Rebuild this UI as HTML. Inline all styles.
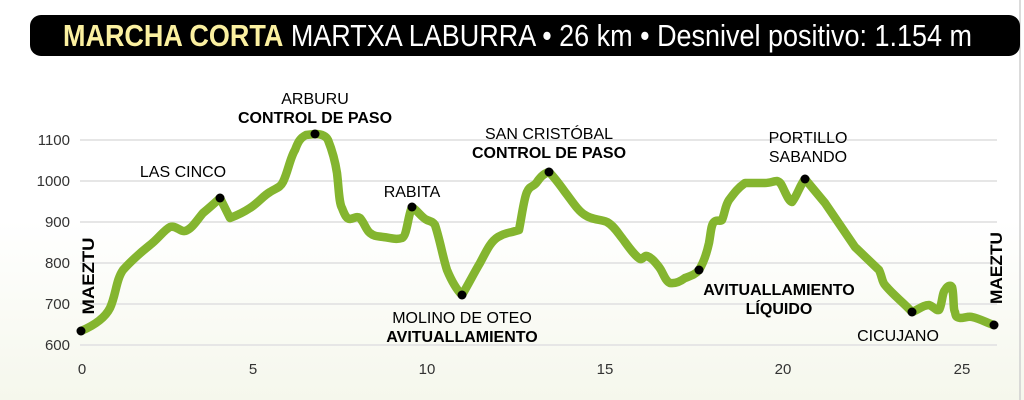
<!DOCTYPE html>
<html><head><meta charset="utf-8"><style>
html,body{margin:0;padding:0;width:1024px;height:400px;overflow:hidden;}
body{background:linear-gradient(to bottom,#ffffff 0%,#ffffff 55%,#f5f7ec 100%);}
svg{display:block;font-family:"Liberation Sans",sans-serif;}
</style></head><body>
<svg width="1024" height="400" viewBox="0 0 1024 400">
<line x1="1020" y1="0" x2="1020" y2="400" stroke="#cfcfcf" stroke-width="1.5"/>
<rect x="30" y="15" width="990" height="41" rx="11" fill="#000"/>
<text transform="translate(0,46) scale(1,1.12)" x="63" y="0" font-size="27" textLength="909" lengthAdjust="spacingAndGlyphs" fill="#fff"><tspan fill="#fbf0a0" font-weight="bold">MARCHA CORTA</tspan> MARTXA LABURRA • 26 km • Desnivel positivo: 1.154 m</text>
<g stroke="#e6e6e6" stroke-width="2">
<line x1="80" y1="140" x2="997" y2="140"/><line x1="80" y1="181" x2="997" y2="181"/>
<line x1="80" y1="222" x2="997" y2="222"/><line x1="80" y1="263" x2="997" y2="263"/>
<line x1="80" y1="304" x2="997" y2="304"/><line x1="80" y1="345" x2="997" y2="345"/>
</g>
<g font-size="15" fill="#333" text-anchor="end">
<text x="70" y="145">1100</text><text x="70" y="186">1000</text><text x="70" y="227">900</text>
<text x="70" y="268">800</text><text x="70" y="309">700</text><text x="70" y="350">600</text>
</g>
<g font-size="15" fill="#333" text-anchor="middle">
<text x="82" y="374">0</text><text x="253" y="374">5</text><text x="427" y="374">10</text>
<text x="605" y="374">15</text><text x="783" y="374">20</text><text x="962" y="374">25</text>
</g>
<path fill="none" stroke="#84b52f" stroke-width="8.5" stroke-linejoin="round" stroke-linecap="round"
d="M81,331 C95,325 105,318 110,308 C116,295 116,280 123,270 C132,260 140,253 150,245 C158,239 164,230 170,227 C176,225 180,232 185,231 C192,229 197,220 203,213 C210,207 215,203 220,198 L230,218 C238,215 244,212 250,208 C258,203 263,196 270,192 C276,188 280,188 283,182 C288,172 290,158 295,150 C298,142 300,138 306,135 L315,134 C322,134 326,136 328,140 C332,150 335,160 337,173 C339,190 339,203 342,208 C345,216 347,219 350,219 C355,218 357,216 360,218 C365,224 366,230 370,233 C375,237 378,236 383,237 C392,238 396,240 402,238 C407,236 408,215 412,207 C418,211 422,218 427,220 C432,222 433,222 435,225 C440,240 443,258 447,270 C452,282 457,290 462,295 C468,285 474,273 480,263 C486,252 490,242 498,237 C505,233 508,233 512,232 L519,230 C522,215 524,198 527,192 C530,185 534,187 537,182 C541,176 545,173 549,172 C555,178 560,185 565,192 C572,201 578,211 585,215 C592,220 600,219 607,222 C614,226 618,233 622,238 C628,246 634,255 640,259 C643,260 644,255 647,256 C652,258 655,262 659,267 C663,272 665,281 670,283 C676,284 681,281 685,278 C690,276 695,275 699,270 C704,262 707,252 709,243 C711,232 711,225 714,222 C717,219 720,222 722,220 C725,213 725,206 729,200 C735,192 738,188 745,183 L765,183 C770,183 774,181 777,181 C781,182 782,186 784,190 C787,196 789,201 792,202 C797,196 800,185 805,179 L825,203 L855,247 L879,270 C882,276 882,282 885,285 C893,295 903,302 912,312 C918,310 923,305 929,305 C933,306 936,311 939,310 C942,306 942,293 945,290 C948,285 951,285 952,287 C954,293 953,310 955,312 C956,318 957,317 960,318 C965,318 968,316 972,317 C981,319 987,323 994,325"/>
<g fill="#000">
<circle cx="81" cy="331" r="4.5"/><circle cx="220" cy="198" r="4.5"/><circle cx="315" cy="134" r="4.5"/>
<circle cx="412" cy="207" r="4.5"/><circle cx="462" cy="295" r="4.5"/><circle cx="549" cy="172" r="4.5"/>
<circle cx="699" cy="270" r="4.5"/><circle cx="805" cy="179" r="4.5"/><circle cx="912" cy="312" r="4.5"/>
<circle cx="994" cy="325" r="4.5"/>
</g>
<g font-size="16" fill="#000" text-anchor="middle">
<text x="183" y="177">LAS CINCO</text>
<text x="315" y="104">ARBURU</text>
<text x="315" y="123" font-weight="bold">CONTROL DE PASO</text>
<text x="412" y="197">RABITA</text>
<text x="549" y="139">SAN CRISTÓBAL</text>
<text x="549" y="158" font-weight="bold">CONTROL DE PASO</text>
<text x="462" y="323">MOLINO DE OTEO</text>
<text x="462" y="342" font-weight="bold">AVITUALLAMIENTO</text>
<text x="779" y="295" font-weight="bold">AVITUALLAMIENTO</text>
<text x="779" y="314" font-weight="bold">LÍQUIDO</text>
<text x="808" y="143">PORTILLO</text>
<text x="808" y="162">SABANDO</text>
<text x="898" y="341">CICUJANO</text>
<text transform="translate(94,276) rotate(-90)" font-weight="bold" font-size="17" textLength="77" lengthAdjust="spacingAndGlyphs">MAEZTU</text>
<text transform="translate(1002,268) rotate(-90)" font-weight="bold" font-size="17" textLength="72" lengthAdjust="spacingAndGlyphs">MAEZTU</text>
</g>
</svg>
</body></html>
